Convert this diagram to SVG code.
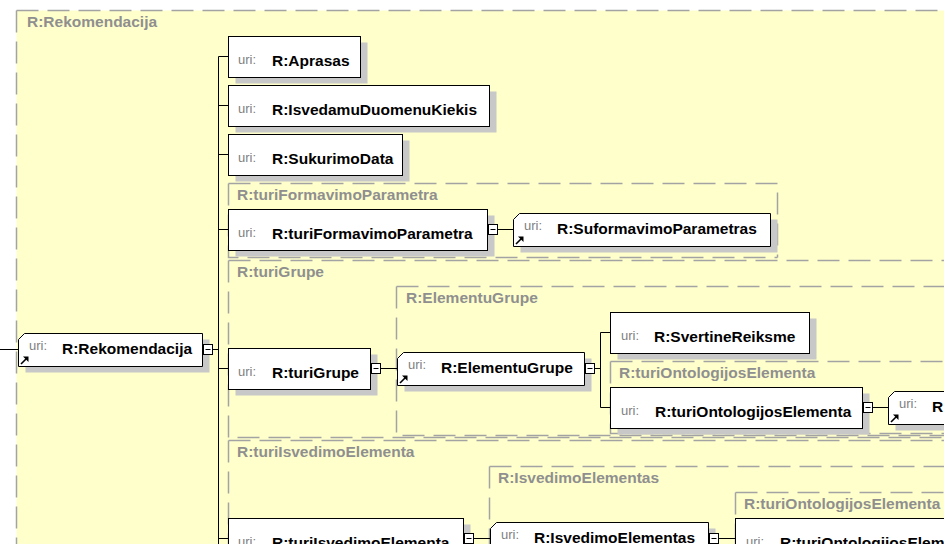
<svg xmlns="http://www.w3.org/2000/svg" xmlns:xlink="http://www.w3.org/1999/xlink" width="944" height="544" viewBox="0 0 944 544">
<style>
.c{fill:none;stroke:#a3a3a3;stroke-width:1.5;stroke-dasharray:22 9}
.cl{font-family:"Liberation Sans",Arial,sans-serif;font-weight:bold;font-size:15.5px;fill:#8f8f8f}
.box{fill:#fff;stroke:#000;stroke-width:1}
.sh{fill:#c8c8c8}
.u{font-family:"Liberation Sans",Arial,sans-serif;font-size:13px;fill:#808080}
.l{font-family:"Liberation Sans",Arial,sans-serif;font-weight:bold;font-size:15.5px;fill:#000}
.ln{stroke:#000;stroke-width:1;fill:none}
.mn{fill:#fff;stroke:#000;stroke-width:1}
</style>
<defs>
<g id="minus"><rect class="mn" x="0" y="0" width="9" height="10"/><path class="ln" d="M2 5H7"/></g>
<g id="refArrow"><path d="M2.5 -2.5L8 -8" stroke="#000" stroke-width="1.6" fill="none"/><polygon points="10,-10 4.5,-10 10,-4.5" fill="#000"/></g>
</defs>
<rect width="944" height="544" fill="#fff"/>

<g id="container-Rekomendacija">
<rect x="16.5" y="10.5" width="1000" height="600" fill="#FFFFCC"/>
<path class="c" d="M16.5 10.5H944"/><path class="c" d="M16.5 10.5V544"/>
<text class="cl" x="27" y="27">R:Rekomendacija</text>
</g>
<g id="container-turiFormavimoParametra">
<path class="c" d="M228.5 183.5H777.5V257.5"/><path class="c" d="M228.5 183.5V257.5H777.5"/>
<text class="cl" x="237" y="200">R:turiFormavimoParametra</text>
</g>
<g id="container-turiGrupe">
<path class="c" d="M228.5 260.5H944"/><path class="c" d="M228.5 260.5V437.5H944"/>
<text class="cl" x="237" y="277">R:turiGrupe</text>
</g>
<g id="container-ElementuGrupe">
<path class="c" d="M396.5 286.5H944"/><path class="c" d="M396.5 286.5V435.5H944"/>
<text class="cl" x="406" y="303">R:ElementuGrupe</text>
</g>
<g id="container-turiOntologijosElementa-1">
<path class="c" d="M610.5 361.5H944"/><path class="c" d="M610.5 361.5V433.5H944"/>
<text class="cl" x="619" y="378">R:turiOntologijosElementa</text>
</g>
<g id="container-turiIsvedimoElementa">
<path class="c" d="M228.5 440.5H944"/><path class="c" d="M228.5 440.5V544"/>
<text class="cl" x="237" y="457">R:turiIsvedimoElementa</text>
</g>
<g id="container-IsvedimoElementas">
<path class="c" d="M489.5 466.5H944"/><path class="c" d="M489.5 466.5V544"/>
<text class="cl" x="498" y="483">R:IsvedimoElementas</text>
</g>
<g id="container-turiOntologijosElementa-2">
<path class="c" d="M735.5 492.5H944"/><path class="c" d="M735.5 492.5V544"/>
<text class="cl" x="744" y="509">R:turiOntologijosElementa</text>
</g>

<g id="connectors">
<path class="ln" d="M0 349.5H18.5"/>
<path class="ln" d="M212.5 349.5H218.5"/>
<path class="ln" d="M218.5 56.5V544"/>
<path class="ln" d="M218.5 56.5H228.5M218.5 105.5H228.5M218.5 154.5H228.5M218.5 229.5H228.5M218.5 368.5H228.5M218.5 538.5H228.5"/>
<path class="ln" d="M497.5 229.5H513.5"/>
<path class="ln" d="M380.5 368.5H397.5"/>
<path class="ln" d="M594.5 368.5H600.5"/>
<path class="ln" d="M600.5 332.5V407.5M600.5 332.5H610.5M600.5 407.5H610.5"/>
<path class="ln" d="M872.5 407.5H888.5"/>
<path class="ln" d="M473.5 538.5H490.5"/>
<path class="ln" d="M718.5 538.5H735.5"/>
</g>

<g id="node-Rekomendacija">
<polygon class="sh" points="31.5,339.5 209.5,339.5 209.5,372.5 25.5,372.5 25.5,345.5"/>
<polygon class="box" points="24.5,333.5 202.5,333.5 202.5,366.5 18.5,366.5 18.5,339.5"/>
<use xlink:href="#refArrow" x="18.5" y="366.5"/>
<text class="u" x="29" y="350">uri:</text>
<text class="l" x="62" y="354">R:Rekomendacija</text>
<use xlink:href="#minus" x="203.5" y="344.5"/>
</g>

<g id="node-Aprasas">
<rect class="sh" x="235.5" y="42.5" width="132" height="41"/>
<rect class="box" x="228.5" y="36.5" width="132" height="41"/>
<text class="u" x="238" y="64">uri:</text>
<text class="l" x="272" y="66">R:Aprasas</text>
</g>

<g id="node-IsvedamuDuomenuKiekis">
<rect class="sh" x="235.5" y="91.5" width="261" height="41"/>
<rect class="box" x="228.5" y="85.5" width="261" height="41"/>
<text class="u" x="238" y="113">uri:</text>
<text class="l" x="272" y="115">R:IsvedamuDuomenuKiekis</text>
</g>

<g id="node-SukurimoData">
<rect class="sh" x="235.5" y="140.5" width="174" height="41"/>
<rect class="box" x="228.5" y="134.5" width="174" height="41"/>
<text class="u" x="238" y="162">uri:</text>
<text class="l" x="272" y="164">R:SukurimoData</text>
</g>

<g id="node-turiFormavimoParametra">
<rect class="sh" x="235.5" y="215.5" width="259" height="41"/>
<rect class="box" x="228.5" y="209.5" width="259" height="41"/>
<text class="u" x="238" y="237">uri:</text>
<text class="l" x="272" y="239">R:turiFormavimoParametra</text>
<use xlink:href="#minus" x="488.5" y="224.5"/>
</g>

<g id="node-SuformavimoParametras">
<polygon class="sh" points="526.5,219.5 777.5,219.5 777.5,252.5 520.5,252.5 520.5,225.5"/>
<polygon class="box" points="519.5,213.5 770.5,213.5 770.5,246.5 513.5,246.5 513.5,219.5"/>
<use xlink:href="#refArrow" x="513.5" y="246.5"/>
<text class="u" x="524" y="230">uri:</text>
<text class="l" x="557" y="234">R:SuformavimoParametras</text>
</g>

<g id="node-turiGrupe">
<rect class="sh" x="235.5" y="354.5" width="142" height="41"/>
<rect class="box" x="228.5" y="348.5" width="142" height="41"/>
<text class="u" x="238" y="376">uri:</text>
<text class="l" x="272" y="378">R:turiGrupe</text>
<use xlink:href="#minus" x="371.5" y="363.5"/>
</g>

<g id="node-ElementuGrupe">
<polygon class="sh" points="410.5,358.5 591.5,358.5 591.5,391.5 404.5,391.5 404.5,364.5"/>
<polygon class="box" points="403.5,352.5 584.5,352.5 584.5,385.5 397.5,385.5 397.5,358.5"/>
<use xlink:href="#refArrow" x="397.5" y="385.5"/>
<text class="u" x="408" y="369">uri:</text>
<text class="l" x="441" y="373">R:ElementuGrupe</text>
<use xlink:href="#minus" x="585.5" y="363.5"/>
</g>

<g id="node-SvertineReiksme">
<rect class="sh" x="617.5" y="318.5" width="199" height="41"/>
<rect class="box" x="610.5" y="312.5" width="199" height="41"/>
<text class="u" x="621" y="340">uri:</text>
<text class="l" x="654" y="342">R:SvertineReiksme</text>
</g>

<g id="node-turiOntologijosElementa-1">
<rect class="sh" x="617.5" y="393.5" width="252" height="41"/>
<rect class="box" x="610.5" y="387.5" width="252" height="41"/>
<text class="u" x="621" y="415">uri:</text>
<text class="l" x="655" y="417">R:turiOntologijosElementa</text>
<use xlink:href="#minus" x="863.5" y="402.5"/>
</g>

<g id="node-OntologijosElementas-1">
<polygon class="sh" points="901.5,397.5 1020,397.5 1020,430.5 895.5,430.5 895.5,403.5"/>
<polygon class="box" points="894.5,391.5 1010,391.5 1010,424.5 888.5,424.5 888.5,397.5"/>
<use xlink:href="#refArrow" x="888.5" y="424.5"/>
<text class="u" x="899" y="408">uri:</text>
<text class="l" x="932" y="412">R:</text>
</g>

<g id="node-turiIsvedimoElementa">
<rect class="sh" x="235.5" y="524.5" width="235" height="41"/>
<rect class="box" x="228.5" y="518.5" width="235" height="41"/>
<text class="u" x="238" y="546">uri:</text>
<text class="l" x="272" y="548">R:turiIsvedimoElementa</text>
<use xlink:href="#minus" x="464.5" y="533.5"/>
</g>

<g id="node-IsvedimoElementas">
<polygon class="sh" points="503.5,528.5 715.5,528.5 715.5,561.5 497.5,561.5 497.5,534.5"/>
<polygon class="box" points="496.5,522.5 708.5,522.5 708.5,555.5 490.5,555.5 490.5,528.5"/>
<text class="u" x="501" y="539">uri:</text>
<text class="l" x="534" y="543">R:IsvedimoElementas</text>
<use xlink:href="#minus" x="709.5" y="533.5"/>
</g>

<g id="node-turiOntologijosElementa-2">
<rect class="sh" x="742.5" y="524.5" width="260" height="41"/>
<rect class="box" x="735.5" y="518.5" width="260" height="41"/>
<text class="u" x="746" y="546">uri:</text>
<text class="l" x="780" y="548">R:turiOntologijosElementa</text>
</g>
</svg>
